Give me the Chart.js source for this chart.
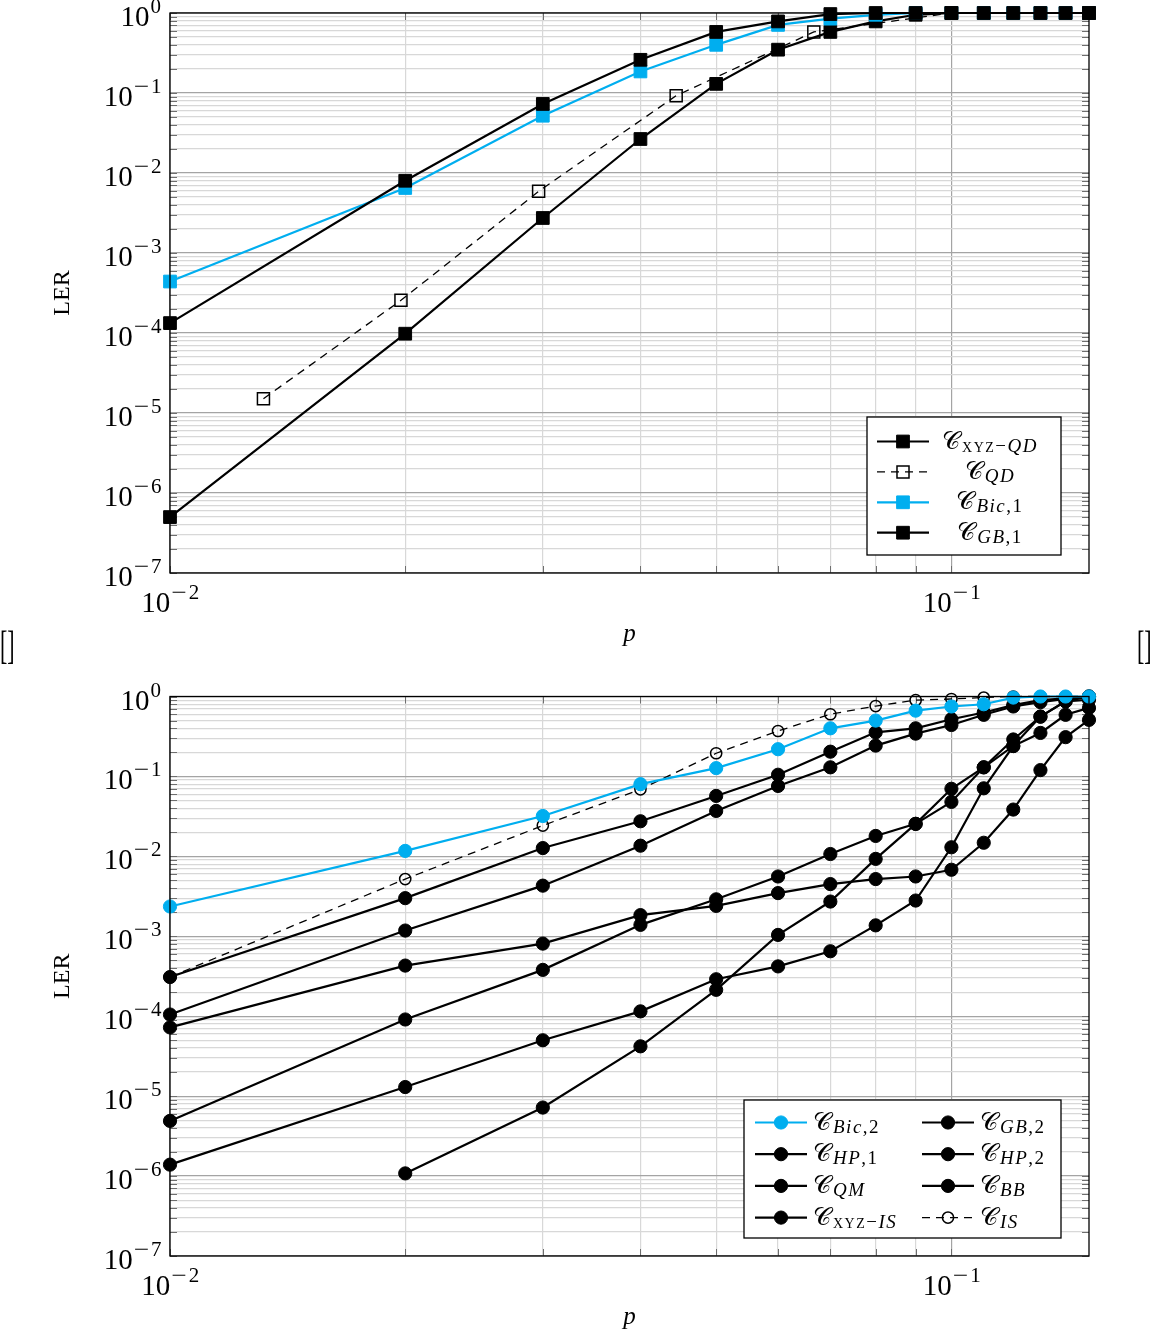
<!DOCTYPE html>
<html>
<head>
<meta charset="utf-8">
<script src="https://cdn.jsdelivr.net/npm/chart.js@4.4.1/dist/chart.umd.min.js"></script>
<style>
body{margin:0;background:#fff;width:1152px;height:1332px;position:relative;overflow:hidden;}
.wrap{position:absolute;left:0;width:1152px;}
#topWrap{top:0;height:665px;}
#botWrap{top:683px;height:649px;}
.brk{position:absolute;top:624px;font-family:"Liberation Serif",serif;font-size:40px;line-height:44px;transform:scaleX(0.55);transform-origin:left top;color:#000;}
</style>
</head>
<body>
<div class="wrap" id="topWrap"><canvas id="topChart" width="1152" height="665"></canvas></div>
<div class="wrap" id="botWrap"><canvas id="botChart" width="1152" height="649"></canvas></div>
<div class="brk" style="left:0px">[]</div>
<div class="brk" style="left:1137px">[]</div>
<script>
// p values (x axis)
const pValues = [0.01,0.02,0.03,0.04,0.05,0.06,0.07,0.08,0.09,0.1,0.11,0.12,0.13,0.14,0.15];
const pQD = [0.01317,0.01975,0.02963,0.04444,0.06667,0.1,0.15];

// top chart
const lerXYZQD = [1.33e-4,8.0e-3,0.073,0.26,0.58,0.785,0.97,1,1,1,1,1,1,1,1];
const lerQD    = [1.51e-5,2.56e-4,5.9e-3,0.0925,0.58,1,1];
const lerBic1  = [4.4e-4,6.5e-3,0.052,0.186,0.40,0.71,0.85,0.95,1,1,1,1,1,1,1];
const lerGB1   = [5.0e-7,9.8e-5,2.74e-3,0.0266,0.13,0.348,0.58,0.785,0.95,1,1,1,1,1,1];

// bottom chart
const lerBic2  = [2.36e-3,0.0117,0.032,0.08,0.127,0.219,0.40,0.50,0.665,0.75,0.80,0.97,1,1,1];
const lerGB2   = [null,1.08e-6,7.2e-6,4.2e-5,2.14e-4,1.04e-3,2.72e-3,9.3e-3,0.0255,0.070,0.13,0.24,0.56,0.87,1.0];
const lerHP1   = [1.39e-6,1.30e-5,5.0e-5,1.15e-4,2.9e-4,4.2e-4,6.5e-4,1.37e-3,2.8e-3,0.013,0.071,0.24,0.35,0.59,0.72];
const lerHP2   = [4.9e-6,9.1e-5,3.8e-4,1.39e-3,2.9e-3,5.6e-3,0.0107,0.018,0.0255,0.048,0.13,0.29,0.56,0.87,0.91];
const lerQM    = [7.24e-5,4.3e-4,8.1e-4,1.84e-3,2.4e-3,3.47e-3,4.5e-3,5.2e-3,5.6e-3,6.8e-3,0.0148,0.0385,0.12,0.31,0.51];
const lerBB    = [1.05e-4,1.18e-3,4.3e-3,0.0136,0.037,0.076,0.13,0.243,0.343,0.44,0.59,0.75,0.85,0.93,0.98];
const lerXYZIS = [3.09e-4,3.0e-3,0.0127,0.0275,0.057,0.105,0.204,0.356,0.40,0.52,0.63,0.78,0.90,0.95,1.0];
const lerIS    = [3.1e-4,5.2e-3,0.0243,0.069,0.195,0.37,0.60,0.76,0.90,0.93,0.97,1,1,1,1];

// tick labels (exponents of 10)
const yTickExps = [0,-1,-2,-3,-4,-5,-6,-7];
const xTickExps = [-2,-1];
const xGrid = [0.01,0.02,0.03,0.04,0.05,0.06,0.07,0.08,0.09,0.1];

const black = '#000000';
const cyan = '#00AEEF';
const serif = '"Liberation Serif", "DejaVu Serif", serif';

function pts(xs, ys){
  return xs.map((x,i)=>({x:x,y:ys[i]})).filter(d=>d.y!=null);
}

function yGrid(){
  const out = [];
  for(let e=-7;e<0;e++){
    for(let m=1;m<10;m++) out.push(m*Math.pow(10,e));
  }
  out.push(1);
  return out;
}

function isDecade(v){
  const l = Math.log10(v);
  return Math.abs(l-Math.round(l))<1e-6;
}

function gridColor(ctx){
  if(!ctx.tick) return '#d8d8d8';
  return isDecade(ctx.tick.value) ? '#a4a4a4' : '#d8d8d8';
}

function makeScales(xH){
  return {
    x:{
      type:'logarithmic', min:0.01, max:0.15,
      afterBuildTicks:s=>{ s.ticks = xGrid.map(v=>({value:v})); },
      afterFit:s=>{ s.height = xH; },
      ticks:{display:false},
      grid:{color:gridColor, lineWidth:1.2, drawTicks:false},
      border:{display:false}
    },
    y:{
      type:'logarithmic', min:1e-7, max:1,
      afterBuildTicks:s=>{ s.ticks = yGrid().map(v=>({value:v})); },
      afterFit:s=>{ s.width = 170; },
      ticks:{display:false},
      grid:{color:gridColor, lineWidth:1.2, drawTicks:false},
      border:{display:false}
    }
  };
}

function drawPow(ctx, x, y, exp, align){
  const base = '10';
  const parts = exp<0 ? ['\u2212', String(Math.abs(exp))] : [String(exp)];
  ctx.font = '29px '+serif;
  const w1 = ctx.measureText(base).width;
  ctx.font = '21px '+serif;
  const ws = parts.map(t=>ctx.measureText(t).width);
  const gap = exp<0 ? 3 : 0;
  const total = w1+1+ws.reduce((s,w)=>s+w,0)+gap+(exp<0?2:0);
  let x0 = align==='right' ? x-total : x-total/2;
  ctx.fillStyle = '#000';
  ctx.textAlign = 'left';
  ctx.textBaseline = 'alphabetic';
  ctx.font = '29px '+serif;
  ctx.fillText(base, x0, y);
  ctx.font = '21px '+serif;
  let cx = x0+w1+1;
  if(exp<0){
    // wider minus like the TeX one
    ctx.save();
    ctx.translate(cx, y-13);
    ctx.scale(1.3,1);
    ctx.fillText(parts[0], 0, 0);
    ctx.restore();
    cx += ws[0]*1.3+2;
    ctx.fillText(parts[1], cx, y-13);
  } else {
    ctx.fillText(parts[0], cx, y-13);
  }
}

// draws C with a rich subscript
function drawName(ctx, x, y, parts, align){
  const main = '\u{1D49E}';
  ctx.letterSpacing = '0px';
  ctx.font = '25px '+serif;
  const wm = ctx.measureText(main).width;
  ctx.letterSpacing = '1.5px';
  let ws = 0;
  parts.forEach(p=>{
    ctx.font = (p[1]==='i'?'italic ':'')+p[2]+'px '+serif;
    ws += ctx.measureText(p[0]).width;
  });
  let x0 = align==='center' ? x-(wm+ws+2)/2 : x;
  ctx.fillStyle = '#000';
  ctx.textAlign = 'left';
  ctx.textBaseline = 'alphabetic';
  ctx.letterSpacing = '0px';
  ctx.font = '25px '+serif;
  ctx.fillText(main, x0, y);
  ctx.letterSpacing = '1.5px';
  let cx = x0+wm+2;
  parts.forEach(p=>{
    ctx.font = (p[1]==='i'?'italic ':'')+p[2]+'px '+serif;
    ctx.fillText(p[0], cx, y+3);
    cx += ctx.measureText(p[0]).width;
  });
  ctx.letterSpacing = '0px';
}

function drawSample(ctx, x1, x2, y, ds){
  ctx.save();
  ctx.strokeStyle = ds.borderColor;
  ctx.lineWidth = ds.borderWidth;
  const mid = (x1+x2)/2;
  if(ds.borderDash) ctx.setLineDash(ds.borderDash);
  ctx.beginPath(); ctx.moveTo(x1,y); ctx.lineTo(x2,y); ctx.stroke();
  ctx.setLineDash([]);
  ctx.lineWidth = ds.pointBorderWidth;
  ctx.strokeStyle = ds.pointBorderColor;
  ctx.fillStyle = ds.pointBackgroundColor;
  const r = ds.pointRadius;
  ctx.beginPath();
  if(ds.pointStyle==='rect'){
    const h = r*Math.SQRT1_2;
    ctx.rect(mid-h, y-h, 2*h, 2*h);
  } else {
    ctx.arc(mid, y, r, 0, Math.PI*2);
  }
  ctx.fill();
  ctx.stroke();
  ctx.restore();
}

const framePlugin = {
  id:'frame',
  beforeDatasetsDraw(chart){
    const ctx = chart.ctx, a = chart.chartArea;
    const xs = chart.scales.x, ys = chart.scales.y;
    ctx.save();
    ctx.strokeStyle = '#6e6e6e';
    ctx.lineWidth = 1;
    ctx.beginPath();
    yGrid().forEach(v=>{
      const py = Math.round(ys.getPixelForValue(v))+0.5;
      ctx.moveTo(a.left, py); ctx.lineTo(a.left+7, py);
      ctx.moveTo(a.right-7, py); ctx.lineTo(a.right, py);
    });
    xGrid.forEach(v=>{
      const px = Math.round(xs.getPixelForValue(v))+0.5;
      ctx.moveTo(px, a.bottom); ctx.lineTo(px, a.bottom-7);
      ctx.moveTo(px, a.top); ctx.lineTo(px, a.top+7);
    });
    ctx.stroke();
    ctx.restore();
  },
  afterDraw(chart){
    const ctx = chart.ctx, a = chart.chartArea;
    const xs = chart.scales.x, ys = chart.scales.y;
    ctx.save();
    ctx.strokeStyle = '#000';
    ctx.lineWidth = 1.3;
    ctx.strokeRect(a.left, a.top, a.right-a.left, a.bottom-a.top);
    yTickExps.forEach(e=>{
      drawPow(ctx, 161, ys.getPixelForValue(Math.pow(10,e))+13, e, 'right');
    });
    xTickExps.forEach(e=>{
      drawPow(ctx, xs.getPixelForValue(Math.pow(10,e)), a.bottom+39, e, 'center');
    });
    ctx.font = 'italic 25px '+serif;
    ctx.textAlign = 'center';
    ctx.textBaseline = 'middle';
    ctx.fillStyle = '#000';
    ctx.fillText('p', (a.left+a.right)/2, a.bottom+61);
    ctx.translate(63, (a.top+a.bottom)/2);
    ctx.rotate(-Math.PI/2);
    ctx.font = '24px '+serif;
    ctx.fillText('LER', 0, 0);
    ctx.restore();

    const lg = chart.options.plugins.frame;
    const bx = a.right-lg.inset-lg.w, by = a.bottom-18-lg.h;
    ctx.save();
    ctx.fillStyle = '#fff';
    ctx.fillRect(bx, by, lg.w, lg.h);
    ctx.strokeStyle = '#000';
    ctx.lineWidth = 1.3;
    ctx.strokeRect(bx, by, lg.w, lg.h);
    lg.items.forEach(it=>{
      const ds = chart.data.datasets[it.ds];
      const ry = by+lg.row0+it.row*lg.rowStep;
      const cx = bx+lg.colX[it.col];
      drawSample(ctx, cx, cx+52, ry, ds);
      drawName(ctx, bx+lg.textX[it.col], ry+7, it.name, lg.center?'center':'left');
    });
    ctx.restore();
  }
};

function setOf(label, xs, ys, color, style, extra){
  const base = {
    label:label, data:pts(xs,ys),
    borderColor:color, backgroundColor:color,
    pointBackgroundColor:color, pointBorderColor:color,
    pointStyle:style, pointRadius: style==='rect'?9:6.6,
    pointBorderWidth:1, borderWidth:2.2, tension:0, clip:false
  };
  return Object.assign(base, extra||{});
}

const openMark = {pointBackgroundColor:'rgba(0,0,0,0)', pointBorderWidth:1.5, borderWidth:1.3, borderDash:[8,6]};

new Chart(document.getElementById('topChart'),{
  type:'line',
  data:{datasets:[
    setOf('XYZ-QD', pValues, lerXYZQD, black, 'rect'),
    setOf('QD', pQD, lerQD, black, 'rect', Object.assign({}, openMark, {pointRadius:8.5})),
    setOf('Bic,1', pValues, lerBic1, cyan, 'rect'),
    setOf('GB,1', pValues, lerGB1, black, 'rect')
  ]},
  options:{
    responsive:false, animation:false, devicePixelRatio:1,
    layout:{padding:{top:13,right:63,bottom:0,left:0}},
    scales:makeScales(92),
    plugins:{
      legend:{display:false}, tooltip:{enabled:false},
      frame:{
        w:194, h:138, inset:28, row0:24.5, rowStep:30.4, center:true,
        colX:[10], textX:[123],
        items:[
          {ds:0,row:0,col:0,name:[['XYZ','n',14],['\u2212','n',19],['QD','i',19]]},
          {ds:1,row:1,col:0,name:[['QD','i',19]]},
          {ds:2,row:2,col:0,name:[['Bic','i',19],[',1','n',19]]},
          {ds:3,row:3,col:0,name:[['GB','i',19],[',1','n',19]]}
        ]
      }
    }
  },
  plugins:[framePlugin]
});

new Chart(document.getElementById('botChart'),{
  type:'line',
  data:{datasets:[
    setOf('Bic,2', pValues, lerBic2, cyan, 'circle'),
    setOf('GB,2', pValues, lerGB2, black, 'circle'),
    setOf('HP,1', pValues, lerHP1, black, 'circle'),
    setOf('HP,2', pValues, lerHP2, black, 'circle'),
    setOf('QM', pValues, lerQM, black, 'circle'),
    setOf('BB', pValues, lerBB, black, 'circle'),
    setOf('XYZ-IS', pValues, lerXYZIS, black, 'circle'),
    setOf('IS', pValues, lerIS, black, 'circle', Object.assign({}, openMark, {pointRadius:5.6}))
  ]},
  options:{
    responsive:false, animation:false, devicePixelRatio:1,
    layout:{padding:{top:13.5,right:63,bottom:0,left:0}},
    scales:makeScales(76),
    plugins:{
      legend:{display:false}, tooltip:{enabled:false},
      frame:{
        w:317, h:138, inset:28, row0:22.5, rowStep:31.7, center:false,
        colX:[11,178], textX:[69,236],
        items:[
          {ds:0,row:0,col:0,name:[['Bic','i',19],[',2','n',19]]},
          {ds:1,row:0,col:1,name:[['GB','i',19],[',2','n',19]]},
          {ds:2,row:1,col:0,name:[['HP','i',19],[',1','n',19]]},
          {ds:3,row:1,col:1,name:[['HP','i',19],[',2','n',19]]},
          {ds:4,row:2,col:0,name:[['QM','i',19]]},
          {ds:5,row:2,col:1,name:[['BB','i',19]]},
          {ds:6,row:3,col:0,name:[['XYZ','n',14],['\u2212','n',19],['IS','i',19]]},
          {ds:7,row:3,col:1,name:[['IS','i',19]]}
        ]
      }
    }
  },
  plugins:[framePlugin]
});
</script>
</body>
</html>
